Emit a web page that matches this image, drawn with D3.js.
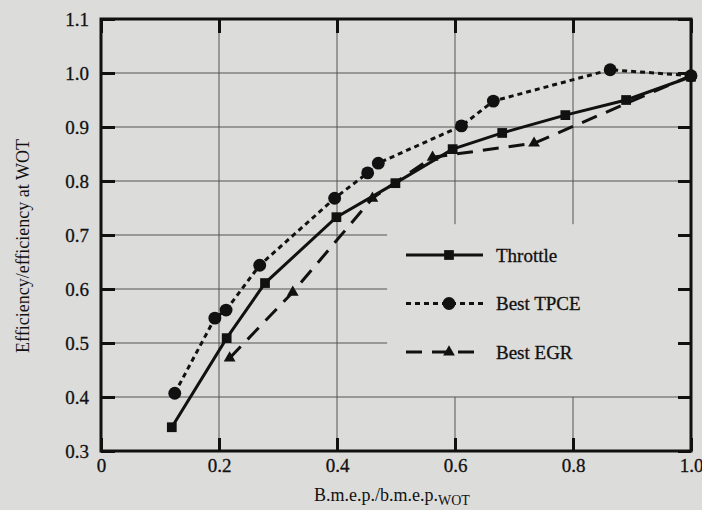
<!DOCTYPE html>
<html lang="en">
<head>
<meta charset="utf-8">
<title>Efficiency vs b.m.e.p.</title>
<script src="https://cdnjs.cloudflare.com/ajax/libs/d3/7.8.5/d3.min.js"></script>
<style>
  body { margin: 0; background: #dcdcda; }
  svg { display: block; font-family: 'Liberation Serif', 'Times New Roman', serif; }
  .tick text { font-family: 'Liberation Serif', 'Times New Roman', serif; font-size: 19px; fill: #111; stroke: #111; stroke-width: 0.3; }
  .domain { display: none; }
</style>
</head>
<body>
<svg></svg>
<script>
// values
var throttleX = [0.12, 0.213, 0.278, 0.399, 0.499, 0.596, 0.68, 0.787, 0.89, 1.0];
var throttleY = [0.344, 0.509, 0.611, 0.733, 0.796, 0.859, 0.889, 0.922, 0.95, 0.993];

var tpceX = [0.125, 0.193, 0.212, 0.269, 0.396, 0.452, 0.47, 0.611, 0.665, 0.863, 1.0];
var tpceY = [0.407, 0.546, 0.561, 0.644, 0.768, 0.815, 0.833, 0.902, 0.948, 1.006, 0.995];

var egrX = [0.218, 0.325, 0.46, 0.562, 0.734, 1.0];
var egrY = [0.472, 0.594, 0.768, 0.844, 0.870, 0.995];

var xTicks = [0, 0.2, 0.4, 0.6, 0.8, 1.0];
var yTicks = [0.3, 0.4, 0.5, 0.6, 0.7, 0.8, 0.9, 1.0, 1.1];
var seriesNames = ["Throttle", "Best TPCE", "Best EGR"];

var width = 702, height = 510;
var padL = 101, padR = 691, padT = 19, padB = 451;

var svg = d3.select("svg").attr("width", width).attr("height", height);

var x = d3.scaleLinear().domain([0, 1]).range([padL, padR]);
var y = d3.scaleLinear().domain([0.3, 1.1]).range([padB, padT]);

// grid, with the gap left open for the legend
var grid = svg.append("g").attr("stroke", "#555").attr("stroke-width", 1);
yTicks.slice(1, -1).forEach(function(v) {
  var x2 = (v >= 0.5 && v <= 0.7) ? 0.485 : 1;
  grid.append("line")
    .attr("x1", x(0)).attr("x2", x(x2))
    .attr("y1", y(v)).attr("y2", y(v));
});
xTicks.slice(1, -1).forEach(function(v) {
  var spans = v > 0.5 ? [[0.3, 0.4], [0.72, 1.1]] : [[0.3, 1.1]];
  spans.forEach(function(s) {
    grid.append("line")
      .attr("x1", x(v)).attr("x2", x(v))
      .attr("y1", y(s[0])).attr("y2", y(s[1]));
  });
});

// axes with inward ticks on all four sides
function styleTicks(g) {
  g.selectAll(".tick line").attr("stroke", "#111").attr("stroke-width", 3);
}
svg.append("g")
  .attr("transform", "translate(0," + padB + ")")
  .call(d3.axisBottom(x).tickValues(xTicks).tickSize(-13).tickPadding(8)
    .tickFormat(function(d) { return d === 0 ? "0" : d.toFixed(1); }))
  .call(styleTicks);
svg.append("g")
  .attr("transform", "translate(0," + padT + ")")
  .call(d3.axisTop(x).tickValues(xTicks).tickSize(-14).tickFormat(""))
  .call(styleTicks);
svg.append("g")
  .attr("transform", "translate(" + padL + ",0)")
  .call(d3.axisLeft(y).tickValues(yTicks).tickSize(-14).tickPadding(12)
    .tickFormat(d3.format(".1f")))
  .call(styleTicks);
svg.append("g")
  .attr("transform", "translate(" + padR + ",0)")
  .call(d3.axisRight(y).tickValues(yTicks).tickSize(-13).tickFormat(""))
  .call(styleTicks);

svg.append("rect")
  .attr("x", padL).attr("y", padT)
  .attr("width", padR - padL).attr("height", padB - padT)
  .attr("fill", "none").attr("stroke", "#111").attr("stroke-width", 3);

// series
var line = d3.line().x(function(d) { return x(d[0]); }).y(function(d) { return y(d[1]); });
var series = [
  { name: seriesNames[0], pts: d3.zip(throttleX, throttleY), dash: null, mark: d3.symbolSquare, size: 95 },
  { name: seriesNames[1], pts: d3.zip(tpceX, tpceY), dash: "5,4", mark: d3.symbolCircle, size: 130 },
  { name: seriesNames[2], pts: d3.zip(egrX, egrY), dash: "16,10", mark: d3.symbolTriangle, size: 60 }
];

// draw EGR first, then TPCE, then throttle on top
[series[2], series[1], series[0]].forEach(function(s) {
  svg.append("path")
    .datum(s.pts)
    .attr("d", line)
    .attr("fill", "none")
    .attr("stroke", "#111")
    .attr("stroke-width", 3)
    .attr("stroke-dasharray", s.dash);
  svg.selectAll(null)
    .data(s.pts)
    .enter()
    .append("path")
      .attr("transform", function(d) { return "translate(" + x(d[0]) + "," + y(d[1]) + ")"; })
      .attr("d", d3.symbol().type(s.mark).size(s.size))
      .attr("fill", "#111");
});

// legend
var legend = svg.append("g").attr("transform", "translate(406,255)");
series.forEach(function(s, i) {
  var g = legend.append("g").attr("transform", "translate(0," + (i * 48.5) + ")");
  g.append("line")
    .attr("x1", 0).attr("x2", 77)
    .attr("stroke", "#111").attr("stroke-width", 3)
    .attr("stroke-dasharray", s.dash);
  g.append("path")
    .attr("transform", "translate(43,0)")
    .attr("d", d3.symbol().type(s.mark).size(s.size))
    .attr("fill", "#111");
  g.append("text")
    .attr("x", 90).attr("dy", "0.35em")
    .style("font-size", "19px")
    .attr("fill", "#111")
    .attr("stroke", "#111").attr("stroke-width", 0.3)
    .text(s.name);
});

// axis titles
var xTitle = svg.append("text")
  .attr("x", 392).attr("y", 501)
  .style("text-anchor", "middle")
  .style("font-size", "18px")
  .attr("fill", "#111");
xTitle.append("tspan").text("B.m.e.p./b.m.e.p.");
xTitle.append("tspan").attr("dy", 4).style("font-size", "14px").text("WOT");

svg.append("text")
  .attr("transform", "translate(29,246) rotate(-90)")
  .style("text-anchor", "middle")
  .style("font-size", "18px")
  .attr("fill", "#111")
  .text("Efficiency/efficiency at WOT");
</script>
</body>
</html>
